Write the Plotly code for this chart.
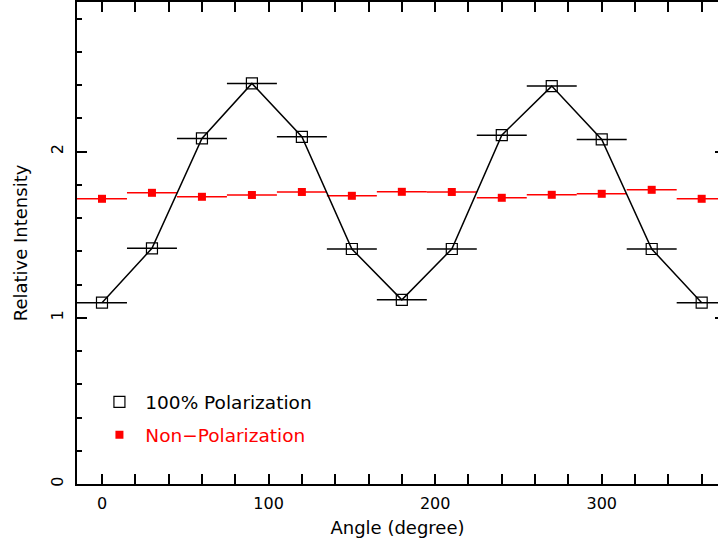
import plotly.graph_objects as go

angles = [0, 30, 60, 90, 120, 150, 180, 210, 240, 270, 300, 330, 360]
pol_100 = [1.091, 1.418, 2.079, 2.410, 2.089, 1.414, 1.108, 1.414, 2.099, 2.394, 2.073, 1.414, 1.091]
non_pol = [1.716, 1.752, 1.728, 1.739, 1.757, 1.734, 1.758, 1.757, 1.722, 1.740, 1.746, 1.770, 1.716]
angle_halfwidth = 15

x_ticks = [0, 100, 200, 300]
y_ticks = [0, 1, 2]

FONT = "DejaVu Sans"

fig = go.Figure()

fig.add_trace(go.Scatter(
    x=angles, y=non_pol, mode="markers", showlegend=False,
    marker=dict(symbol="square", size=8, color="red"),
    error_x=dict(type="constant", value=angle_halfwidth, width=0, thickness=1.5, color="red"),
))
fig.add_trace(go.Scatter(
    x=angles, y=pol_100, mode="lines+markers", showlegend=False,
    line=dict(color="black", width=1.5),
    marker=dict(symbol="square-open", size=11, color="black", line=dict(width=1.2)),
    error_x=dict(type="constant", value=angle_halfwidth, width=0, thickness=1.5, color="black"),
))

# legend-only entries
fig.add_trace(go.Scatter(
    x=[None], y=[None], mode="markers", name="\u00a0100% Polarization", legendgroup="a",
    marker=dict(symbol="square-open", size=11, color="black", line=dict(width=1.2)),
))
fig.add_trace(go.Scatter(
    x=[None], y=[None], mode="markers", legendgroup="b",
    name="<span style='color:red'>\u00a0Non\u2212Polarization</span>",
    marker=dict(symbol="square", size=8, color="red"),
))
# right-side tick stubs (right frame lies just beyond the picture edge)
fig.add_trace(go.Scatter(x=[None], y=[None], yaxis="y2", showlegend=False))

axis_common = dict(
    showgrid=False, zeroline=False, showline=True, linecolor="black", linewidth=1.5,
    ticks="inside", ticklen=10, tickwidth=1.5, tickcolor="black", automargin=False,
    tickfont=dict(family=FONT, size=16, color="black"),
)

fig.update_layout(
    xaxis=dict(
        range=[-15, 369.8], tickmode="array", tickvals=x_ticks, ticklabelstandoff=4,
        mirror="allticks",
        minor=dict(dtick=20, ticks="inside", ticklen=5, tickwidth=1.5, tickcolor="black"),
        title=dict(text="Angle (degree)", font=dict(family=FONT, size=18, color="black"), standoff=9),
        **axis_common,
    ),
    yaxis=dict(
        range=[0, 2.9], tickmode="array", tickvals=y_ticks, tickangle=-90, ticklabelstandoff=6,
        minor=dict(dtick=0.2, ticks="inside", ticklen=5, tickwidth=1.5, tickcolor="black"),
        title=dict(text="Relative Intensity", font=dict(family=FONT, size=18, color="black"), standoff=16),
        **axis_common,
    ),
    yaxis2=dict(
        overlaying="y", side="right", range=[0, 2.9], tickmode="array", tickvals=y_ticks,
        showticklabels=False, showline=False, showgrid=False, zeroline=False,
        ticks="inside", ticklen=3, tickwidth=1.5, tickcolor="black", automargin=False,
    ),
)

fig.update_layout(
    width=718, height=542,
    margin=dict(l=77, r=0, t=2, b=58),
    paper_bgcolor="white", plot_bgcolor="white",
    font=dict(family=FONT, size=16, color="black"),
    legend=dict(x=0.035, y=0.209, xanchor="left", yanchor="top", bgcolor="rgba(0,0,0,0)",
                tracegroupgap=6, font=dict(family=FONT, size=18.5, color="black")),
)

fig.write_html("out.html", config={"displayModeBar": False},
               post_script="document.body.style.margin='0';")
